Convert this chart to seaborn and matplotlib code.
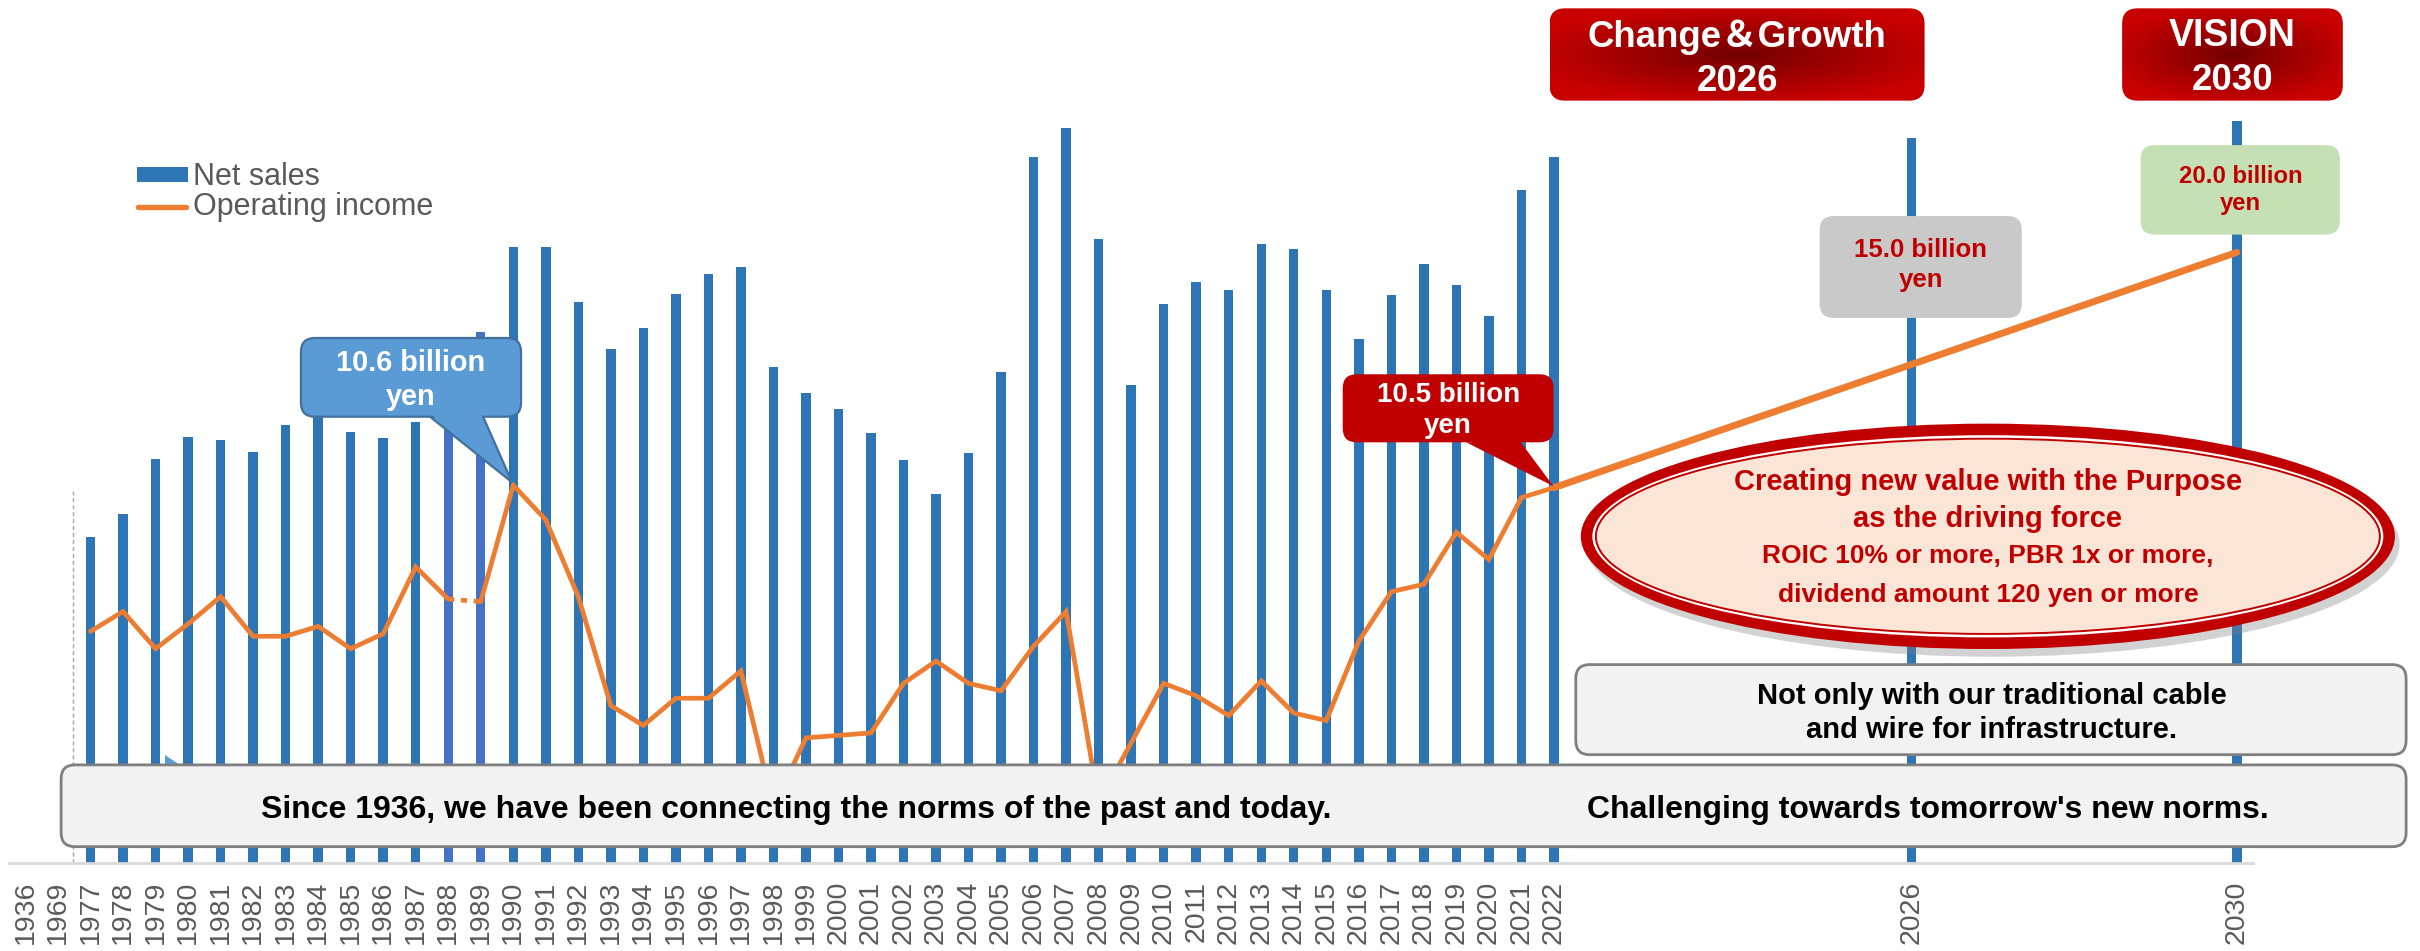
import numpy as np
import pandas as pd
import matplotlib
matplotlib.use("Agg")
import matplotlib.pyplot as plt
import seaborn as sns
from matplotlib.patches import FancyBboxPatch, Polygon, Ellipse, Rectangle
from matplotlib.lines import Line2D

# ---------------- data ----------------
tick_labels = ["1936", "1969", "1977", "1978", "1979", "1980", "1981", "1982", "1983",
               "1984", "1985", "1986", "1987", "1988", "1989", "1990", "1991", "1992",
               "1993", "1994", "1995", "1996", "1997", "1998", "1999", "2000", "2001",
               "2002", "2003", "2004", "2005", "2006", "2007", "2008", "2009", "2010",
               "2011", "2012", "2013", "2014", "2015", "2016", "2017", "2018", "2019",
               "2020", "2021", "2022", "2026", "2030"]
gaps_before_2026 = 10
gaps_before_2030 = 9

bar_years = tick_labels[2:]
# Net sales (billion yen)
net_sales = [97.2, 104.0, 120.3, 127.1, 126.0, 122.6, 130.5, 134.3, 128.6, 126.6,
             131.4, 136.2, 158.2, 183.7, 183.5, 167.2, 153.2, 159.5, 169.6, 175.7,
             177.7, 147.9, 140.1, 135.3, 128.1, 120.2, 109.9, 122.1, 146.4, 210.5,
             219.0, 186.1, 142.4, 166.6, 173.1, 170.9, 184.5, 182.9, 170.8, 156.3,
             169.4, 178.4, 172.2, 162.9, 200.5, 210.5, 216.2, 221.2]
highlight_years = ["1988", "1989"]

income_years = tick_labels[2:48]  # 1977 .. 2022
op_income = [4.7, 5.5, 4.0, 5.0, 6.1, 4.5, 4.5, 4.9, 4.0, 4.6,
             7.3, 6.0, 5.9, 10.6, 9.2, 6.1, 1.7, 0.9, 2.0, 2.0,
             3.1, -2.4, 0.4, 0.5, 0.6, 2.6, 3.5, 2.6, 2.3, 4.1,
             5.5, -2.2, 0.2, 2.6, 2.1, 1.3, 2.7, 1.4, 1.1, 4.3,
             6.3, 6.6, 8.7, 7.6, 10.1, 10.5]
target_years = ["2026", "2030"]
target_income = [15.0, 20.0]

# ---------------- slots ----------------
order = tick_labels[:48] + [f"_g{k}" for k in range(gaps_before_2026)] + ["2026"] \
        + [f"_h{k}" for k in range(gaps_before_2030)] + ["2030"]
pos = {lab: i for i, lab in enumerate(order)}

# ---------------- figure ----------------
sns.set_theme(style="white")
plt.rcParams['font.family'] = ['Liberation Sans', 'DejaVu Sans']

W, H = 2420, 951
S = W / 1568.0          # reference-shrunk px -> full px
HS = H / S              # figure height in shrunk px
fig = plt.figure(figsize=(W / 100, H / 100), dpi=100)
fig.patch.set_facecolor('white')

base_full = 863.0
ax = fig.add_axes([9.2 / W, (H - base_full) / H, 2243.9 / W, base_full / H])
ax.set_zorder(1)

df = pd.DataFrame({"year": bar_years, "sales": net_sales})
palette = {y: ('#4472C4' if y in highlight_years else '#2E75B6') for y in bar_years}
sns.barplot(data=df, x="year", y="sales", order=order, hue="year", hue_order=bar_years,
            palette=palette, dodge=False, width=0.29, saturation=1, legend=False,
            linewidth=0, ax=ax)

ax_h = base_full / S
ax.set_xlim(-0.5, len(order) - 0.5)
ax.set_ylim(0, ax_h * 0.46)
ax.set_xlabel("")
ax.set_ylabel("")
ax.set_yticks([])
tick_pos = [pos[t] for t in tick_labels]
ax.set_xticks(tick_pos)
ax.set_xticklabels(tick_labels, rotation=90, fontsize=20.5, color='#595959')
ax.tick_params(axis='x', length=0, pad=13)
for s in ['top', 'left', 'right']:
    ax.spines[s].set_visible(False)
ax.spines['bottom'].set_color('#D9D9D9')
ax.spines['bottom'].set_linewidth(2)

# thin dashed separator
ax.plot([1.45, 1.45], [0, (ax_h - 318) * 0.46], color='#A6A6A6', lw=1.0,
        ls=(0, (3, 2)), zorder=0.5)

# operating income on twin axis
ax2 = ax.twinx()
ix = [pos[y] for y in income_years]
oc = '#ED7D31'
i88 = income_years.index("1988")
i89 = income_years.index("1989")
sns.lineplot(x=ix[:i88 + 1], y=op_income[:i88 + 1], color=oc, linewidth=3.4, ax=ax2)
sns.lineplot(x=ix[i88:i89 + 1], y=op_income[i88:i89 + 1], color=oc, linewidth=3.4, ax=ax2)
ax2.lines[-1].set_dashes([1.3, 1.4])
sns.lineplot(x=ix[i89:], y=op_income[i89:], color=oc, linewidth=3.4, ax=ax2)
sns.lineplot(x=[pos["2022"], pos["2030"]], y=[op_income[-1], target_income[-1]],
             color=oc, linewidth=5.0, ax=ax2)
for ln in ax2.lines:
    ln.set_solid_joinstyle('miter')
zero_y, ppb = 484.5, 16.05
ax2.set_ylim((zero_y - ax_h) / ppb, zero_y / ppb)
ax2.set_yticks([])
ax2.set_ylabel("")
for s in ax2.spines.values():
    s.set_visible(False)
ax.set_xlim(-0.5, len(order) - 0.5)

# ---------------- overlay (reference-shrunk pixel coordinates) ----------------
axo = fig.add_axes([0, 0, 1, 1])
axo.set_zorder(10)
axo.set_xlim(0, 1568)
axo.set_ylim(HS, 0)
axo.axis('off')


def rbox(x0, y0, x1, y1, fc, ec='none', lw=0, r=9, z=3):
    p = FancyBboxPatch((x0, y0), x1 - x0, y1 - y0,
                       boxstyle=f"round,pad=0,rounding_size={r}",
                       fc=fc, ec=ec, lw=lw, zorder=z)
    axo.add_patch(p)
    return p


def txt(x, y, s, size, color, weight='bold', ha='center', family=None):
    kw = {}
    if family is not None:
        kw['family'] = family
    axo.text(x, y, s, fontsize=size, color=color, fontweight=weight, ha=ha,
             va='baseline', zorder=20, **kw)


def grad_box(x0, y0, x1, y1, r=10):
    box = rbox(x0, y0, x1, y1, fc='none', r=r, z=3)
    nx, ny = 300, 100
    U, V = np.meshgrid(np.linspace(-1, 1, nx), np.linspace(-1, 1, ny))
    R = np.clip(np.sqrt(U ** 2 + (V * 1.1) ** 2) / 1.15, 0, 1)
    c0 = np.array([0x70, 0x00, 0x00]) / 255.0
    c1 = np.array([0xC8, 0x00, 0x00]) / 255.0
    img = c0 + (c1 - c0) * (R[..., None] ** 0.9)
    im = axo.imshow(img, extent=(x0, x1, y1, y0), aspect='auto', zorder=3,
                    interpolation='bilinear')
    im.set_clip_path(box)


def callout(x0, y0, x1, y1, bl, br, tip, fc, ec, lw):
    tail = Polygon([(bl, y1), (br, y1), tip], closed=True, fc=fc, ec=ec, lw=lw,
                   zorder=4, joinstyle='miter')
    axo.add_patch(tail)
    rbox(x0, y0, x1, y1, fc=fc, ec=ec, lw=lw, r=9, z=5)
    d = 3.0
    t = d / (tip[1] - y1)
    lx = bl + t * (tip[0] - bl) + 1.2
    rx = br + t * (tip[0] - br) - 1.2
    cover = Polygon([(bl + 1.2, y1 - 2), (br - 1.2, y1 - 2), (rx, y1 + d), (lx, y1 + d)],
                    closed=True, fc=fc, ec='none', zorder=6)
    axo.add_patch(cover)


# legend
axo.add_patch(Rectangle((88.6, 108.2), 33.1, 9.7, fc='#2E75B6', ec='none', zorder=5))
axo.add_line(Line2D([89.5, 120.8], [134.3, 134.3], color=oc, lw=3.9,
                    solid_capstyle='round', zorder=5))
txt(125, 119.9, "Net sales", 22, '#595959', weight='normal', ha='left')
txt(125, 139.3, "Operating income", 22, '#595959', weight='normal', ha='left')

# title boxes
grad_box(1004, 5.4, 1247, 65.2, r=10)
txt(1125.5, 30.2, "Change＆Growth", 26.4, 'white',
    family=['Liberation Sans', 'Noto Sans CJK JP'])
txt(1125.5, 58.8, "2026", 26.4, 'white')
grad_box(1375, 5.4, 1518, 65.2, r=10)
txt(1446.5, 29.8, "VISION", 27, 'white')
txt(1446.5, 58.5, "2030", 26.4, 'white')

# target boxes
rbox(1179, 140, 1310, 206, fc='#C9C9C9', r=9, z=5)
txt(1244.5, 166.7, f"{target_income[0]:.1f} billion", 18.5, '#C00000')
txt(1244.5, 186.2, "yen", 18.5, '#C00000')
rbox(1387, 94, 1516, 152, fc='#C5E0B4', r=9, z=5)
txt(1451.6, 118.4, f"{target_income[1]:.1f} billion", 17.2, '#C00000')
txt(1451.6, 136.0, "yen", 17.2, '#C00000')

# callouts
callout(195, 219, 337.6, 270, 278.6, 313, (331.8, 312.5), '#5B9BD5', '#41719C', 1.6)
txt(266.3, 240.2, f"{op_income[income_years.index('1990')]:.1f} billion", 20.8, 'white')
txt(266.3, 262.4, "yen", 20.8, 'white')
callout(870, 242.5, 1006.6, 286.6, 950, 985.4, (1006.5, 315.0), '#C00000', 'none', 0)
txt(938.3, 260.3, f"{op_income[-1]:.1f} billion", 20, 'white')
txt(938.3, 280.8, "yen", 20, 'white')

# ellipse
ecx, ecy, ew, eh = 1288.0, 347.5, 527.5, 146
axo.add_patch(Ellipse((ecx + 3, ecy + 5), ew, eh, fc='#7F7F7F', ec='none',
                      alpha=0.35, zorder=6))
axo.add_patch(Ellipse((ecx, ecy), ew, eh, fc='#C00000', ec='none', zorder=7))
axo.add_patch(Ellipse((ecx, ecy), ew - 15, eh - 15, fc='white', ec='none', zorder=7))
axo.add_patch(Ellipse((ecx, ecy), ew - 19.5, eh - 19.5, fc='#FBE5D6', ec='#C00000',
                      lw=1.4, zorder=7))
txt(1288, 317.5, "Creating new value with the Purpose", 21, '#C00000')
txt(1288, 341.2, "as the driving force", 21, '#C00000')
txt(1288, 364.6, "ROIC 10% or more, PBR 1x or more,", 19, '#C00000')
txt(1288, 389.8, "dividend amount 120 yen or more", 19, '#C00000')

# small hidden-shape corner
axo.add_patch(Polygon([(106.6, 489.0), (106.6, 495.6), (116.6, 495.6)], closed=True,
                      fc='#5B9BD5', ec='none', zorder=2))

# message boxes
rbox(1021, 430.6, 1559, 489.0, fc='#F2F2F2', ec='#7F7F7F', lw=2, r=9, z=8)
txt(1290.5, 456.1, "Not only with our traditional cable", 21, 'black')
txt(1290.5, 478.4, "and wire for infrastructure.", 21, 'black')
rbox(39.6, 495.6, 1559, 548.6, fc='#F2F2F2', ec='#7F7F7F', lw=2, r=9, z=8)
txt(516, 530.2, "Since 1936, we have been connecting the norms of the past and today.",
    23, 'black')
txt(1249, 530.2, "Challenging towards tomorrow's new norms.", 23, 'black')

axo.set_xlim(0, 1568)
axo.set_ylim(HS, 0)

fig.savefig("out.png", dpi=100, facecolor='white')
